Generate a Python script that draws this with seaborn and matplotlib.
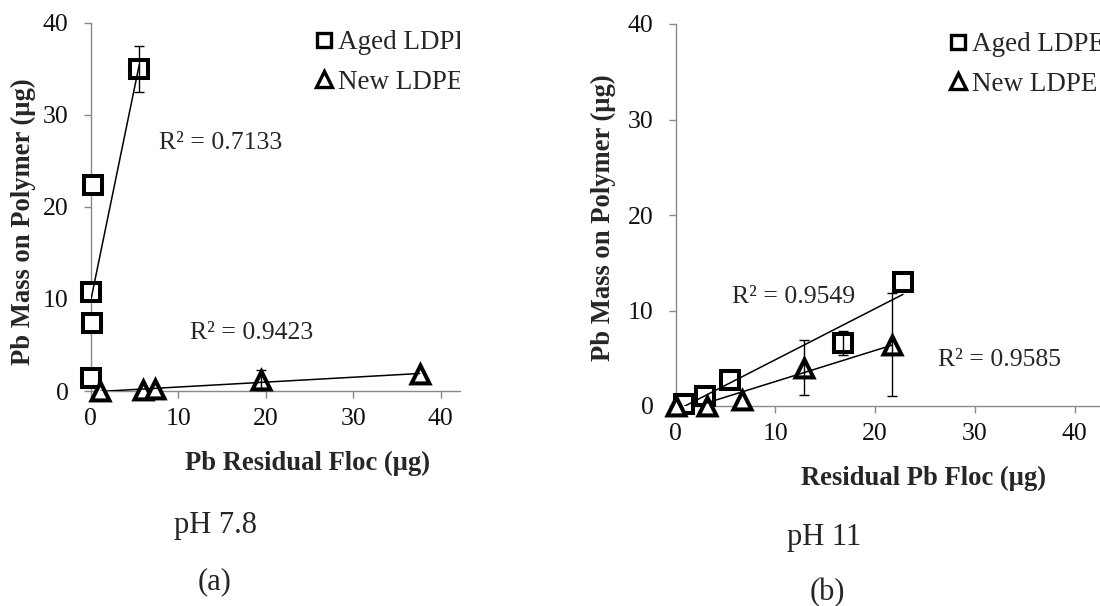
import matplotlib
matplotlib.use("Agg")
import matplotlib.pyplot as plt
from matplotlib.lines import Line2D
import seaborn as sns

# ---- Panel (a): pH 7.8 ----
a_aged_x = [0.3, 0.0, 0.2, 0.0, 5.56]
a_aged_y = [22.4, 10.8, 7.4, 1.4, 35.0]
a_aged_err = [0, 0, 0, 0, 2.5]
a_new_x = [1.1, 6.0, 7.4, 19.5, 37.6]
a_new_y = [0.0, 0.1, 0.2, 1.2, 1.8]
a_new_err = [0, 0, 0, 1.1, 0]
a_r2 = ["R\u00b2 = 0.7133", "R\u00b2 = 0.9423"]

# ---- Panel (b): pH 11 ----
b_aged_x = [0.8, 2.9, 5.4, 16.8, 22.8]
b_aged_y = [0.25, 1.0, 2.7, 6.6, 13.0]
b_aged_err = [0, 0, 0, 1.3, 0]
b_new_x = [0.0, 3.1, 6.7, 12.9, 21.7]
b_new_y = [0.0, 0.0, 0.6, 4.0, 6.4]
b_new_err = [0, 0, 0, 2.9, 5.4]
b_r2 = ["R\u00b2 = 0.9549", "R\u00b2 = 0.9585"]

series_names = ["Aged LDPE", "New LDPE"]
y_ticks = [0, 10, 20, 30, 40]
x_ticks = [0, 10, 20, 30, 40]

sns.set_theme(style="white")
plt.rcParams["font.family"] = ["Liberation Serif", "DejaVu Serif"]

W, H = 1100, 606
fig = plt.figure(figsize=(W / 100, H / 100), dpi=100)
fig.patch.set_facecolor("white")

AXIS_GREY = "#898989"
TICK_FS = 18.5
LEGEND_FS = 19.5
LABEL_FS = 19.2


def add_px_axes(x0, x1, y_top, y_bottom):
    return fig.add_axes([x0 / W, 1 - y_bottom / H, (x1 - x0) / W, (y_bottom - y_top) / H])


def draw_panel(ax, aged, new, xmax):
    (ax_, ay_, ae_), (nx_, ny_, ne_) = aged, new
    # trend lines
    for xs, ys in ((ax_, ay_), (nx_, ny_)):
        sns.regplot(x=xs, y=ys, scatter=False, ci=None, truncate=True,
                    line_kws=dict(color="black", lw=1.1, zorder=6), ax=ax)
    # markers
    for xs, ys, mk in ((ax_, ay_, "s"), (nx_, ny_, "^")):
        sns.scatterplot(x=xs, y=ys, marker=mk, s=165, color="white",
                        edgecolor="black", linewidth=2.9, zorder=4,
                        clip_on=False, ax=ax)
        ax.collections[-1].set_joinstyle("miter")
    # error bars
    for xs, ys, es in ((ax_, ay_, ae_), (nx_, ny_, ne_)):
        pts = [(x, y, e) for x, y, e in zip(xs, ys, es) if e > 0]
        if pts:
            ex, ey, ee = zip(*pts)
            ax.errorbar(ex, ey, yerr=ee, fmt="none", ecolor="black",
                        elinewidth=1.0, capsize=3.6, capthick=1.0, zorder=5)
    ax.set_xlim(0, xmax)
    ax.set_ylim(0, 40)
    ax.set_xticks(x_ticks)
    ax.set_yticks(y_ticks)
    sns.despine(ax=ax)
    for side in ("left", "bottom"):
        ax.spines[side].set_color(AXIS_GREY)
        ax.spines[side].set_linewidth(1.0)
    ax.tick_params(axis="both", which="major", direction="out", length=5,
                   width=1.0, color=AXIS_GREY, labelsize=TICK_FS,
                   labelcolor="#111111")
    ax.tick_params(axis="x", pad=7, bottom=True)
    ax.tick_params(axis="y", pad=11, left=True)
    ax.set_facecolor("none")


def add_legend(ax, x_px, y_px, clip):
    handles = [
        Line2D([], [], marker="s", ls="none", mfc="white", mec="black", mew=2.4, ms=10),
        Line2D([], [], marker="^", ls="none", mfc="white", mec="black", mew=2.4, ms=11),
    ]
    leg = ax.legend(handles, series_names, loc="upper left",
                    bbox_to_anchor=(x_px / W, 1 - y_px / H),
                    bbox_transform=fig.transFigure, frameon=False,
                    fontsize=LEGEND_FS, handlelength=0.62, handletextpad=0.2,
                    labelspacing=0.55, borderpad=0, borderaxespad=0)
    if clip:
        for t in leg.get_texts():
            t.set_clip_box(ax.bbox)
            t.set_clip_on(True)
    return leg


# ---- left panel ----
axL = add_px_axes(90.7, 90.7 + 8.75 * 42.2, 22.7, 391)
draw_panel(axL, (a_aged_x, a_aged_y, a_aged_err), (a_new_x, a_new_y, a_new_err), 42.2)
axL.set_xlabel("Pb Residual Floc (\u00b5g)", fontsize=LABEL_FS, fontweight="bold",
               va="center", ha="center")
axL.set_ylabel("Pb Mass on Polymer (\u00b5g)", fontsize=LABEL_FS, fontweight="bold",
               va="center", ha="center")
axL.xaxis.set_label_coords((307.5 - 90.7) / 369.3, (391 - 463) / 368.3)
axL.yaxis.set_label_coords((23 - 90.7) / 369.3, (391 - 222) / 368.3)
axL.text(7.8, 26.9, a_r2[0], fontsize=TICK_FS, ha="left", va="center")
axL.text(11.4, 6.3, a_r2[1], fontsize=TICK_FS, ha="left", va="center")
add_legend(axL, 316, 30, clip=True)

# ---- right panel ----
axR = add_px_axes(675.7, 675.7 + 9.97 * 45, 24, 406)
draw_panel(axR, (b_aged_x, b_aged_y, b_aged_err), (b_new_x, b_new_y, b_new_err), 45)
axR.set_xlabel("Residual Pb Floc (\u00b5g)", fontsize=LABEL_FS, fontweight="bold",
               va="center", ha="center")
axR.set_ylabel("Pb Mass on Polymer (\u00b5g)", fontsize=LABEL_FS, fontweight="bold",
               va="center", ha="center")
axR.xaxis.set_label_coords((924 - 675.7) / 448.7, (406 - 478) / 382)
axR.yaxis.set_label_coords((603 - 675.7) / 448.7, (406 - 218) / 382)
axR.text(5.65, 11.4, b_r2[0], fontsize=TICK_FS, ha="left", va="center")
axR.text(26.3, 4.8, b_r2[1], fontsize=TICK_FS, ha="left", va="center")
add_legend(axR, 950, 32, clip=False)

# ---- panel captions ----
fig.text(215 / W, 1 - 526 / H, "pH 7.8", fontsize=22, ha="center", va="center")
fig.text(215 / W, 1 - 582 / H, "(a)", fontsize=22, ha="center", va="center")
fig.text(824 / W, 1 - 537 / H, "pH 11", fontsize=22, ha="center", va="center")
fig.text(827 / W, 1 - 593 / H, "(b)", fontsize=22, ha="center", va="center")

fig.savefig("out.png", dpi=100, facecolor="white")
